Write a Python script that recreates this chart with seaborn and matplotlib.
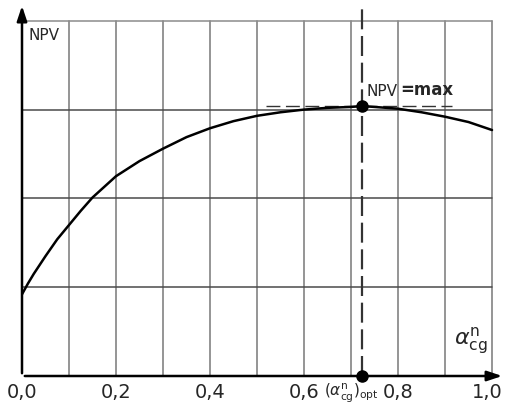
import matplotlib
matplotlib.use("Agg")
import matplotlib.pyplot as plt
import pandas as pd
import seaborn as sns

# NPV curve (grid units, 4 rows)
alpha = [0.0, 0.0125, 0.025, 0.0375, 0.05, 0.075, 0.1, 0.125, 0.15, 0.2, 0.25, 0.3, 0.35,
         0.4, 0.45, 0.5, 0.55, 0.6, 0.65, 0.7, 0.723, 0.75, 0.8, 0.85, 0.9, 0.95, 1.0]
npv = [0.92, 1.04, 1.15, 1.25, 1.35, 1.54, 1.70, 1.86, 2.01, 2.25, 2.42, 2.56, 2.69,
       2.79, 2.87, 2.93, 2.97, 3.0, 3.02, 3.03, 3.04, 3.03, 3.01, 2.97, 2.92, 2.86, 2.77]
alpha_opt = 0.723
npv_max = 3.04
x_ticks = [0.0, 0.2, 0.4, 0.6, 0.8, 0.99]
x_tick_labels = ["0,0", "0,2", "0,4", "0,6", "0,8", "1,0"]

df = pd.DataFrame({"alpha": alpha, "npv": npv})

sns.set_style("white")
fig = plt.figure(figsize=(5.05, 4.10), dpi=100)
ax = fig.add_axes([22 / 505, 33 / 410, 483 / 505, 377 / 410])
ax.set_xlim(0, 483 / 470)
ax.set_ylim(0, 377 / 88.8)
for s in ax.spines.values():
    s.set_visible(False)
ax.set_xticks([])
ax.set_yticks([])

# grid
for i in range(1, 11):
    ax.plot([i / 10, i / 10], [0, 4], color="#8c8c8c", lw=1.3, zorder=1)
for j in range(1, 5):
    ax.plot([0, 1.0], [j, j], color="#4a4a4a" if j < 4 else "#8c8c8c", lw=1.1, zorder=1)

# axes with arrows
ax.annotate("", xy=(0, 4.2), xytext=(0, 0),
            arrowprops=dict(arrowstyle="-|>,head_length=0.9,head_width=0.3", color="black", lw=1.8))
ax.annotate("", xy=(483 / 470, 0), xytext=(0, 0),
            arrowprops=dict(arrowstyle="-|>,head_length=0.9,head_width=0.3", color="black", lw=1.8))

sns.lineplot(data=df, x="alpha", y="npv", color="black", lw=1.8, ax=ax, zorder=3)

# optimum markers
ax.plot([alpha_opt, alpha_opt], [0, 4.2], color="#333333", lw=1.6,
        linestyle=(0, (9, 3)), zorder=2)
ax.plot([0.52, 0.915], [npv_max, npv_max], color="#333333", lw=1.0,
        linestyle=(0, (10, 4)), zorder=2)
ax.plot([alpha_opt, alpha_opt], [npv_max, 0], "o", color="black", ms=8, zorder=5,
        clip_on=False)

ax.set_xlabel("")
ax.set_ylabel("")

ax.text(0.013, 3.93, "NPV", fontsize=11, va="top", ha="left")
ax.text(0.733, 3.13, "NPV", fontsize=11, va="bottom", ha="left")
ax.text(0.804, 3.13, "=max", fontsize=12, fontweight="bold", va="bottom", ha="left")
ax.text(0.92, 0.22, r"$\alpha^{\mathrm{n}}_{\mathrm{cg}}$", fontsize=16, va="bottom", ha="left")

for xv, lab in zip(x_ticks, x_tick_labels):
    ax.text(xv, -0.18, lab, fontsize=14, ha="center", va="center", clip_on=False)
ax.text(0.7, -0.18, r"$(\alpha^{\mathrm{n}}_{\mathrm{cg}})_{\mathrm{opt}}$", fontsize=11,
        ha="center", va="center", clip_on=False)

fig.savefig("out.png", dpi=100)
